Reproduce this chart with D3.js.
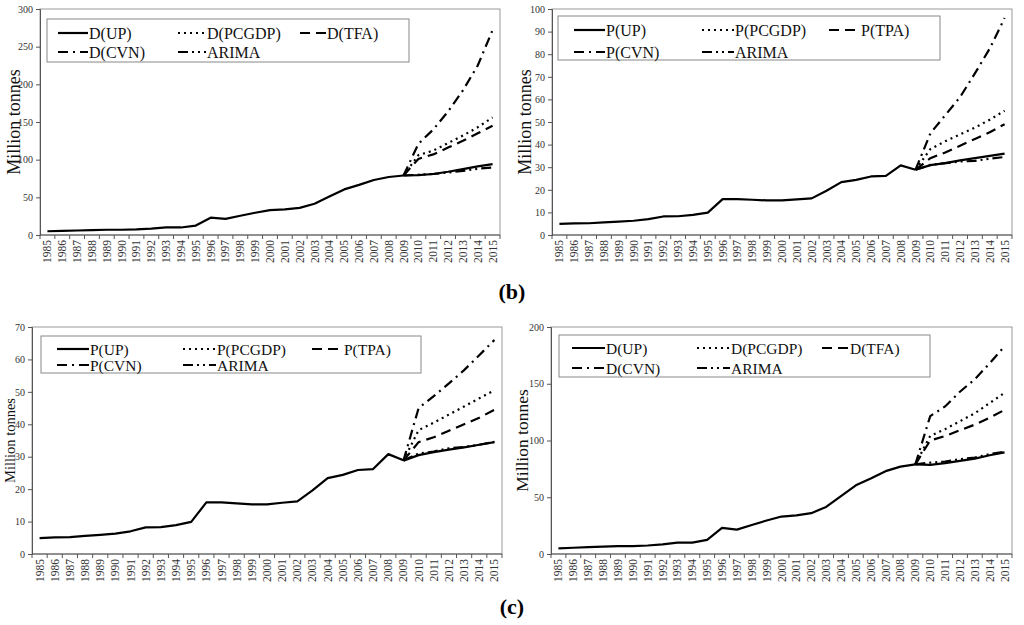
<!DOCTYPE html>
<html>
<head>
<meta charset="utf-8">
<script src="https://cdn.jsdelivr.net/npm/d3@7.9.0/dist/d3.min.js"></script>
<style>
  body { margin: 0; background: #fff; }
  svg { display: block; }
  svg text { font-family: "Liberation Serif", "Times New Roman", Times, serif; }
</style>
</head>
<body>
<svg id="chart" width="1024" height="625"></svg>
<script>
const SERIF = '"Liberation Serif", "Times New Roman", Times, serif';

// categories
const years = d3.range(1985, 2016).map(String);
const fcYears = ['2009', '2010', '2011', '2012', '2013', '2014', '2015'];

// historical demand (D) and production (P), 1985-2009
const dHist = [5, 5.5, 6, 6.5, 7, 7, 7.5, 8.5, 10, 10, 12.5, 23, 21.5, 25.5, 29.5, 33, 34, 36, 41.5, 51, 60.5, 66.5, 73, 77, 79];
const pHist = [4.9, 5.1, 5.2, 5.6, 5.9, 6.3, 7.0, 8.2, 8.3, 8.9, 9.9, 15.9, 15.9, 15.6, 15.3, 15.3, 15.8, 16.2, 19.6, 23.4, 24.4, 25.9, 26.2, 30.8, 28.9];

// forecasts 2009-2015, panel by panel: UP, PCGDP, TFA/TPA, CVN, ARIMA
const fc1 = [
  [79, 79.5, 81, 84, 87.5, 91, 94],
  [79, 106, 112, 122, 132, 143, 156],
  [79, 101, 107, 116, 125, 135, 145],
  [79, 121, 140, 164, 192, 225, 272],
  [79, 80, 81, 83, 85, 88, 89.5]
];
const fc2 = [
  [28.9, 30.9, 31.8, 33, 34, 35, 36],
  [28.9, 38, 41.5, 44.5, 47.5, 51, 55],
  [28.9, 34, 36.5, 39.5, 42.5, 45.5, 49],
  [28.9, 45, 53, 61, 71.5, 82.5, 96],
  [28.9, 31, 31.8, 32.5, 32.8, 33.8, 34.5]
];
const fc3 = [
  [28.8, 30.5, 31.4, 32.2, 32.9, 33.7, 34.5],
  [28.8, 38.2, 40.5, 43, 45.5, 48, 50.5],
  [28.8, 34.5, 36, 38, 40, 42, 44.5],
  [28.8, 45, 48.7, 52.6, 56.7, 61.3, 66],
  [28.8, 31, 31.6, 32.6, 33, 33.7, 34.6]
];
const fc4 = [
  [79, 78.5, 80, 82, 84, 87, 89.5],
  [79, 104, 110, 117, 124, 133, 142],
  [79, 100, 104, 109, 114, 120, 127],
  [79, 121.5, 130, 143, 154, 168, 183],
  [79, 80.5, 81.5, 83.5, 85, 88, 90]
];

const dNames = ['D(UP)', 'D(PCGDP)', 'D(TFA)', 'D(CVN)', 'ARIMA'];
const pNames = ['P(UP)', 'P(PCGDP)', 'P(TPA)', 'P(CVN)', 'ARIMA'];
const dashes = [null, '2,4', '10,6', '10,5,2,5', '10,4,2,4,2,4'];

const svg = d3.select('#chart');

function drawPanel(p) {
  const x = d3.scaleBand().domain(years).range([p.left, p.right]).padding(0);
  const y = d3.scaleLinear().domain([0, p.yMax]).range([p.bottom, p.top]);
  const cx = d => x(d) + x.bandwidth() / 2;
  const g = svg.append('g');

  // plot frame
  g.append('rect')
    .attr('x', p.left).attr('y', p.top)
    .attr('width', p.right - p.left).attr('height', p.bottom - p.top)
    .attr('fill', 'none').attr('stroke', '#999').attr('stroke-width', 1);

  // y axis
  const yAxis = g.append('g')
    .attr('transform', `translate(${p.left},0)`)
    .call(d3.axisLeft(y).tickValues(d3.range(0, p.yMax + 1, p.yStep)).tickSize(4).tickPadding(3));
  yAxis.attr('font-family', SERIF);
  yAxis.select('.domain').attr('stroke', '#555');
  yAxis.selectAll('.tick line').attr('stroke', '#555');
  yAxis.selectAll('text').attr('font-size', 10).attr('fill', '#333');

  // x axis: ticks between categories, labels rotated
  const xAxis = g.append('g').attr('transform', `translate(0,${p.bottom})`);
  xAxis.append('line').attr('x1', p.left).attr('x2', p.right)
    .attr('stroke', '#555');
  xAxis.selectAll('line.tk').data(years.concat(['end'])).join('line')
    .attr('class', 'tk')
    .attr('x1', (d, i) => i < years.length ? x(d) : p.right)
    .attr('x2', (d, i) => i < years.length ? x(d) : p.right)
    .attr('y1', 0).attr('y2', 4).attr('stroke', '#555');
  xAxis.selectAll('text').data(years).join('text')
    .attr('transform', d => `translate(${cx(d) + 4},5) rotate(-90)`)
    .attr('text-anchor', 'end')
    .attr('font-family', SERIF)
    .attr('font-size', 11.5).attr('fill', '#333')
    .text(d => d);

  // y label
  g.append('text')
    .attr('transform', `translate(${p.labelX},${(p.top + p.bottom) / 2}) rotate(-90)`)
    .attr('text-anchor', 'middle').attr('dominant-baseline', 'central')
    .attr('font-family', SERIF)
    .attr('font-size', p.labelSize).attr('fill', '#111')
    .text('Million tonnes');

  const line = d3.line().x(d => cx(d[0])).y(d => y(d[1]));

  // forecasts
  p.fc.forEach((vals, i) => {
    g.append('path')
      .datum(fcYears.map((yr, j) => [yr, vals[j]]))
      .attr('d', line)
      .attr('fill', 'none').attr('stroke', '#000').attr('stroke-width', 2.2)
      .attr('stroke-dasharray', dashes[i]);
  });

  // historical
  g.append('path')
    .datum(p.hist.map((v, j) => [years[j], v]))
    .attr('d', line)
    .attr('fill', 'none').attr('stroke', '#000').attr('stroke-width', 2.2)
    .attr('stroke-linejoin', 'round');

  // legend
  const L = p.legend;
  const lg = g.append('g');
  lg.append('rect')
    .attr('x', L.x).attr('y', L.y).attr('width', L.w).attr('height', L.h)
    .attr('fill', '#fff').attr('stroke', '#888').attr('stroke-width', 1);
  p.names.forEach((name, i) => {
    const col = i % 3, row = Math.floor(i / 3);
    const [x0, x1] = L.cols[col];
    const yy = L.rows[row];
    lg.append('line')
      .attr('x1', x0).attr('x2', x1).attr('y1', yy).attr('y2', yy)
      .attr('stroke', '#000').attr('stroke-width', 2.2)
      .attr('stroke-dasharray', dashes[i]);
    lg.append('text')
      .attr('x', x1 + 1).attr('y', yy)
      .attr('dominant-baseline', 'central')
      .attr('font-family', SERIF)
      .attr('font-size', L.size).attr('fill', '#111')
      .text(name);
  });
}

drawPanel({
  left: 40, right: 500, top: 9, bottom: 235, yMax: 300, yStep: 50,
  labelX: 14, labelSize: 18, hist: dHist, fc: fc1, names: dNames,
  legend: { x: 47, y: 19, w: 362, h: 43, size: 16,
    cols: [[58, 88], [178, 206], [300, 326]], rows: [33, 52] }
});
drawPanel({
  left: 552, right: 1012, top: 9, bottom: 235, yMax: 100, yStep: 10,
  labelX: 525, labelSize: 18, hist: pHist, fc: fc2, names: pNames,
  legend: { x: 558, y: 16, w: 382, h: 44, size: 16,
    cols: [[574, 605], [702, 734], [829, 860]], rows: [30, 52] }
});
drawPanel({
  left: 32, right: 502, top: 327, bottom: 554, yMax: 70, yStep: 10,
  labelX: 10, labelSize: 14.5, hist: pHist, fc: fc3, names: pNames,
  legend: { x: 41, y: 336, w: 380, h: 37, size: 15.5,
    cols: [[57, 89], [183, 216], [312, 343]], rows: [349, 365] }
});
drawPanel({
  left: 551, right: 1012, top: 327, bottom: 554, yMax: 200, yStep: 50,
  labelX: 522, labelSize: 17.5, hist: dHist, fc: fc4, names: dNames,
  legend: { x: 559, y: 335, w: 371, h: 42, size: 15.5,
    cols: [[572, 605], [697, 730], [822, 849]], rows: [348, 368] }
});

// panel captions
svg.append('text').attr('x', 512).attr('y', 299).attr('text-anchor', 'middle')
  .attr('font-family', SERIF)
  .attr('font-size', 22).attr('font-weight', 'bold').text('(b)');
svg.append('text').attr('x', 512).attr('y', 614).attr('text-anchor', 'middle')
  .attr('font-family', SERIF)
  .attr('font-size', 22).attr('font-weight', 'bold').text('(c)');
</script>
</body>
</html>
